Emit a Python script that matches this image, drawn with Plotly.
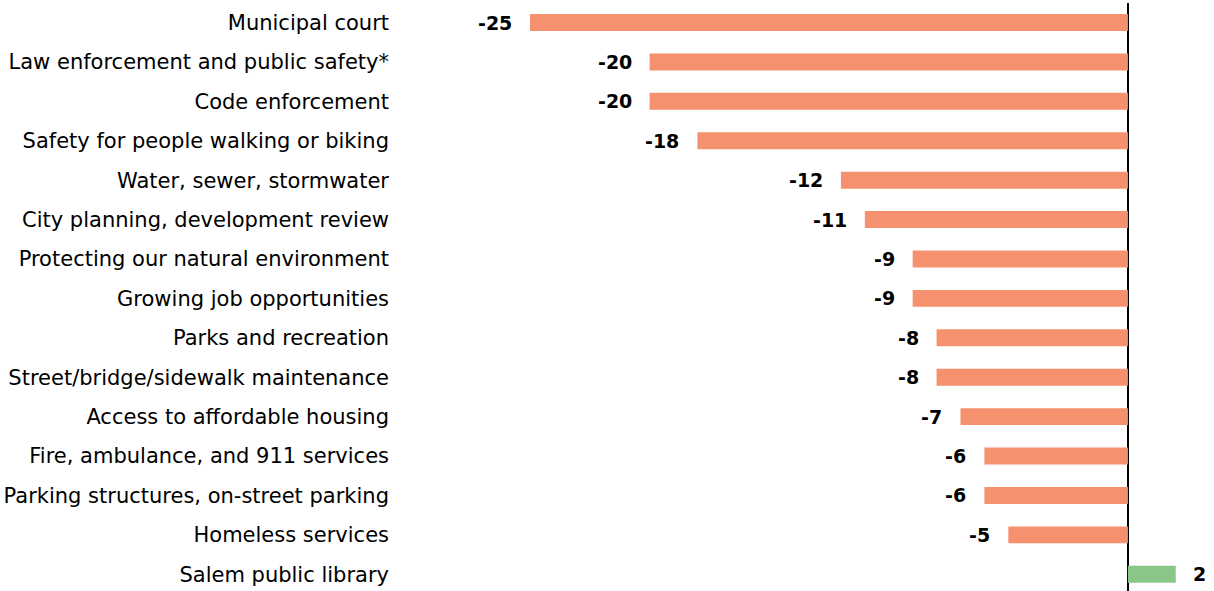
import plotly.graph_objects as go

categories = [
    "Municipal court",
    "Law enforcement and public safety*",
    "Code enforcement",
    "Safety for people walking or biking",
    "Water, sewer, stormwater",
    "City planning, development review",
    "Protecting our natural environment",
    "Growing job opportunities",
    "Parks and recreation",
    "Street/bridge/sidewalk maintenance",
    "Access to affordable housing",
    "Fire, ambulance, and 911 services",
    "Parking structures, on-street parking",
    "Homeless services",
    "Salem public library",
]
values = [-25, -20, -20, -18, -12, -11, -9, -9, -8, -8, -7, -6, -6, -5, 2]

NEG = "#F5916E"
POS = "#88C788"
colors = [NEG if v < 0 else POS for v in values]
ypos = list(range(len(categories)))

FONT = "DejaVu Sans, Liberation Sans, Arial, sans-serif"

fig = go.Figure(go.Bar(
    x=values, y=ypos, orientation="h",
    marker=dict(color=colors, line=dict(width=0)),
    width=0.43, hoverinfo="skip",
))

for i, v in enumerate(values):
    fig.add_annotation(
        x=v, y=i, text=f"<b>{v}</b>", showarrow=False,
        xanchor="right" if v < 0 else "left",
        xshift=-16 if v < 0 else 15,
        font=dict(family=FONT, size=19, color="#000"),
    )

fig.update_layout(
    width=1214, height=591,
    margin=dict(l=398, r=0, t=3, b=0),
    plot_bgcolor="white", paper_bgcolor="white",
    showlegend=False,
    font=dict(family=FONT, size=21, color="#000"),
    xaxis=dict(range=[-30.52, 3.6], showgrid=False, showticklabels=False,
               zeroline=True, zerolinecolor="#000", zerolinewidth=2, ticks=""),
    yaxis=dict(range=[14.424, -0.495], tickvals=ypos, ticktext=categories,
               showgrid=False, zeroline=False, ticks="", ticklabelstandoff=8,
               tickfont=dict(family=FONT, size=21, color="#000")),
)

fig.write_html(
    "out.html",
    config={"displayModeBar": False},
    post_script="document.body.style.margin='0';document.body.style.overflow='hidden';",
)
